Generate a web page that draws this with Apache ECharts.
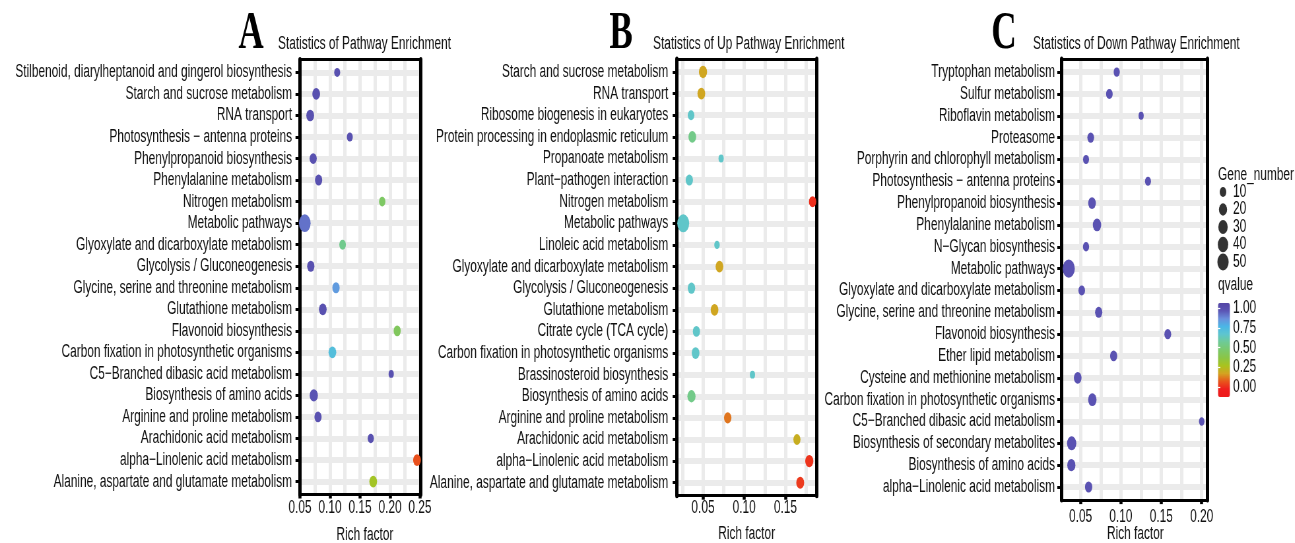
<!DOCTYPE html>
<html>
<head>
<meta charset="utf-8">
<script src="https://cdn.jsdelivr.net/npm/echarts@6/dist/echarts.min.js"></script>
<style>
  html, body { margin: 0; padding: 0; overflow: hidden; background: #fff; }
  /* the reference figure is squeezed horizontally, so draw wide and squeeze */
  #chart { width: 1962px; height: 543px; transform: scaleX(0.66); transform-origin: 0 0; }
</style>
</head>
<body>
<div id="chart"></div>
<script>
const SX = 0.66
const vx = (x) => x / SX

// ---- data ----
const catsA = [
  'Stilbenoid, diarylheptanoid and gingerol biosynthesis',
  'Starch and sucrose metabolism',
  'RNA transport',
  'Photosynthesis \u2212 antenna proteins',
  'Phenylpropanoid biosynthesis',
  'Phenylalanine metabolism',
  'Nitrogen metabolism',
  'Metabolic pathways',
  'Glyoxylate and dicarboxylate metabolism',
  'Glycolysis / Gluconeogenesis',
  'Glycine, serine and threonine metabolism',
  'Glutathione metabolism',
  'Flavonoid biosynthesis',
  'Carbon fixation in photosynthetic organisms',
  'C5\u2212Branched dibasic acid metabolism',
  'Biosynthesis of amino acids',
  'Arginine and proline metabolism',
  'Arachidonic acid metabolism',
  'alpha\u2212Linolenic acid metabolism',
  'Alanine, aspartate and glutamate metabolism',
]
const richA = [0.112, 0.077, 0.067, 0.133, 0.072, 0.081, 0.187, 0.058, 0.121, 0.068,
  0.110, 0.088, 0.212, 0.104, 0.202, 0.073, 0.080, 0.168, 0.245, 0.172]
const qA = [1, 1, 1, 1, 1, 1, 0.45, 0.92, 0.55, 1, 0.84, 1, 0.43, 0.72, 1, 0.98, 1, 1, 0.06, 0.29]
const geneA = [7, 17, 17, 7, 13, 14, 9, 55, 10, 14, 14, 17, 13, 17, 4, 20, 13, 8, 17, 17]

const catsB = [
  'Starch and sucrose metabolism',
  'RNA transport',
  'Ribosome biogenesis in eukaryotes',
  'Protein processing in endoplasmic reticulum',
  'Propanoate metabolism',
  'Plant\u2212pathogen interaction',
  'Nitrogen metabolism',
  'Metabolic pathways',
  'Linoleic acid metabolism',
  'Glyoxylate and dicarboxylate metabolism',
  'Glycolysis / Gluconeogenesis',
  'Glutathione metabolism',
  'Citrate cycle (TCA cycle)',
  'Carbon fixation in photosynthetic organisms',
  'Brassinosteroid biosynthesis',
  'Biosynthesis of amino acids',
  'Arginine and proline metabolism',
  'Arachidonic acid metabolism',
  'alpha\u2212Linolenic acid metabolism',
  'Alanine, aspartate and glutamate metabolism',
]
const richB = [0.050, 0.048, 0.0355, 0.037, 0.072, 0.0334, 0.183, 0.026, 0.067, 0.070,
  0.036, 0.064, 0.042, 0.041, 0.110, 0.036, 0.080, 0.164, 0.179, 0.168]
const qB = [0.18, 0.18, 0.66, 0.54, 0.66, 0.66, 0.0, 0.66, 0.66, 0.18,
  0.66, 0.18, 0.66, 0.66, 0.66, 0.54, 0.11, 0.2, 0.01, 0.02]
const geneB = [20, 17, 10, 17, 4, 14, 14, 58, 5, 17, 15, 17, 13, 17, 4, 20, 15, 13, 20, 18]

const catsC = [
  'Tryptophan metabolism',
  'Sulfur metabolism',
  'Riboflavin metabolism',
  'Proteasome',
  'Porphyrin and chlorophyll metabolism',
  'Photosynthesis \u2212 antenna proteins',
  'Phenylpropanoid biosynthesis',
  'Phenylalanine metabolism',
  'N\u2212Glycan biosynthesis',
  'Metabolic pathways',
  'Glyoxylate and dicarboxylate metabolism',
  'Glycine, serine and threonine metabolism',
  'Flavonoid biosynthesis',
  'Ether lipid metabolism',
  'Cysteine and methionine metabolism',
  'Carbon fixation in photosynthetic organisms',
  'C5\u2212Branched dibasic acid metabolism',
  'Biosynthesis of secondary metabolites',
  'Biosynthesis of amino acids',
  'alpha\u2212Linolenic acid metabolism',
]
const richC = [0.0948, 0.0857, 0.125, 0.0626, 0.0568, 0.1335, 0.0642, 0.0704, 0.0568, 0.0354,
  0.0515, 0.0725, 0.158, 0.091, 0.0465, 0.0646, 0.200, 0.039, 0.0386, 0.060]
const qC = [0.99, 0.99, 0.99, 0.99, 0.99, 0.99, 0.99, 0.99, 0.99, 0.99,
  0.99, 0.99, 0.99, 0.99, 0.99, 0.99, 0.99, 0.99, 0.99, 0.99]
const geneC = [8, 10, 4, 11, 7, 7, 17, 22, 8, 61, 10, 14, 11, 13, 17, 22, 5, 29, 20, 14]

const xTicksA = [0.05, 0.10, 0.15, 0.20, 0.25]
const xTicksB = [0.05, 0.10, 0.15]
const xTicksC = [0.05, 0.10, 0.15, 0.20]
const xGridA = [0.05, 0.075, 0.10, 0.125, 0.15, 0.175, 0.20, 0.225, 0.25]
const xGridB = [0.025, 0.05, 0.075, 0.10, 0.125, 0.15, 0.175]
const xGridC = [0.05, 0.075, 0.10, 0.125, 0.15, 0.175, 0.20]

const panelLetters = ['A', 'B', 'C']
const panelTitles = [
  'Statistics of Pathway Enrichment',
  'Statistics of Up Pathway Enrichment',
  'Statistics of Down Pathway Enrichment',
]
const geneBreaks = [10, 20, 30, 40, 50]
const qBreaks = [0, 0.25, 0.5, 0.75, 1]

// ---- styling / layout (final px, before the squeeze) ----
const FONT = '"Liberation Sans", Arial, sans-serif'
const TEXT = '#111'
const GRID_GREY = '#EBEBEB'
const qColors = ['#EE1B1B', '#F01E1E', '#E8561C', '#D4A321', '#A9C41E', '#8BC546', '#7BC96C',
  '#6FCA95', '#5EC6CF', '#4AB6E6', '#6A8FDC', '#5B55B5', '#5546A5']
const Q_MIN = -0.13
const Q_MAX = 1.07

const panels = [
  { cats: catsA, rich: richA, q: qA, gene: geneA, ticks: xTicksA, grid: xGridA,
    left: 299.5, right: 420.3, top: 59.5, bottom: 494.5, xMin: 0.0492, xMax: 0.2505,
    yGap: 7.5, xGap: 5.5, nameGap: 31.5, nameShift: 10, letterX: 251, titleX: 278 },
  { cats: catsB, rich: richB, q: qB, gene: geneB, ticks: xTicksB, grid: xGridB,
    left: 676.7, right: 816.7, top: 59, bottom: 495.7, xMin: 0.0181, xMax: 0.188,
    yGap: 8.4, xGap: 4.3, nameGap: 29.3, nameShift: 0, letterX: 621, titleX: 653 },
  { cats: catsC, rich: richC, q: qC, gene: geneC, ticks: xTicksC, grid: xGridC,
    left: 1061.3, right: 1207.5, top: 59, bottom: 500.1, xMin: 0.0262, xMax: 0.2072,
    yGap: 6.3, xGap: 8.5, nameGap: 25, nameShift: 2, letterX: 1004, titleX: 1033 },
]

const dotSize = (g) => 4.3 + 1.8 * Math.sqrt(g)
const labelStyle = { fontSize: 18, color: TEXT, fontFamily: FONT }

const grids = []
const xAxes = []
const yAxes = []
const series = []

panels.forEach((p, i) => {
  const n = p.cats.length
  const idx = p.cats.map((_, j) => j)
  grids.push({
    left: vx(p.left), top: p.top, width: vx(p.right - p.left), height: p.bottom - p.top,
    outerBoundsMode: 'none', containLabel: false,
  })
  // bottom axis: ticks, labels, frame
  xAxes.push({
    gridIndex: i, type: 'value', position: 'bottom', min: p.xMin, max: p.xMax,
    axisLine: { show: true, onZero: false, lineStyle: { color: '#000', width: 3 } },
    axisTick: { show: true, length: 4, lineStyle: { color: '#000', width: vx(3) }, customValues: p.ticks },
    axisLabel: { ...labelStyle, lineHeight: 16, customValues: p.ticks, margin: p.xGap,
      formatter: (v) => v.toFixed(2) },
    splitLine: { show: false },
    name: 'Rich factor', nameLocation: 'middle', nameGap: p.nameGap, nameMoveOverlap: false,
    nameTextStyle: { ...labelStyle, padding: [0, 0, 0, vx(p.nameShift)] },
  })
  // top axis: frame + vertical grid lines (major and minor)
  xAxes.push({
    gridIndex: i, type: 'value', position: 'top', min: p.xMin, max: p.xMax,
    axisLine: { show: true, onZero: false, lineStyle: { color: '#000', width: 3 } },
    axisTick: { show: false, customValues: p.grid },
    axisLabel: { show: false },
    splitLine: { show: true, lineStyle: { color: GRID_GREY, width: vx(3.3) } },
  })
  yAxes.push({
    gridIndex: i, type: 'value', position: 'left', inverse: true, min: -0.6, max: n - 0.4,
    axisLine: { show: true, onZero: false, lineStyle: { color: '#000', width: vx(3.3) } },
    axisTick: { show: true, length: vx(4), lineStyle: { color: '#000', width: 3 }, customValues: idx },
    axisLabel: { ...labelStyle, lineHeight: 18, customValues: idx, margin: vx(p.yGap),
      formatter: (v) => p.cats[Math.round(v)] },
    splitLine: { show: true, lineStyle: { color: GRID_GREY, width: 6 } },
  })
  yAxes.push({
    gridIndex: i, type: 'value', position: 'right', inverse: true, min: -0.6, max: n - 0.4,
    axisLine: { show: true, onZero: false, lineStyle: { color: '#000', width: vx(3.3) } },
    axisTick: { show: false }, axisLabel: { show: false }, splitLine: { show: false },
  })
  series.push({
    type: 'scatter', xAxisIndex: 2 * i, yAxisIndex: 2 * i, clip: false, silent: true,
    data: p.cats.map((_, j) => [p.rich[j], j, p.q[j], p.gene[j]]),
    symbolSize: (v) => dotSize(v[3]),
    itemStyle: { opacity: 1 },
  })
})

// size legend (grid 3)
grids.push({ left: vx(1223) - 1, top: 183.25, width: 2, height: 87.5, outerBoundsMode: 'none' })
xAxes.push({ gridIndex: 3, type: 'value', min: -1, max: 1, show: false })
yAxes.push({
  gridIndex: 3, type: 'category', position: 'right', inverse: true,
  data: geneBreaks.map(String),
  axisLine: { show: false }, axisTick: { show: false }, splitLine: { show: false },
  axisLabel: { ...labelStyle, lineHeight: 14, interval: 0, margin: vx(10) - 1 },
})
series.push({
  type: 'scatter', xAxisIndex: 6, yAxisIndex: 6, silent: true, clip: false,
  data: geneBreaks.map((g, j) => [0, j, g]),
  symbolSize: (v) => dotSize(v[2]),
  itemStyle: { color: '#000' },
})

// colour bar labels (grid 4), the bar itself is the visualMap
grids.push({ left: vx(1218), top: 303, width: vx(12), height: 94, outerBoundsMode: 'none' })
xAxes.push({ gridIndex: 4, type: 'value', min: 0, max: 1, show: false })
yAxes.push({
  gridIndex: 4, type: 'value', position: 'right', min: Q_MIN, max: Q_MAX, z: 10,
  axisLine: { show: false }, splitLine: { show: false },
  axisTick: { show: true, inside: true, length: 3.5, lineStyle: { color: '#fff', width: 1.2 }, customValues: qBreaks },
  axisLabel: { ...labelStyle, lineHeight: 16, hideOverlap: false, customValues: qBreaks, margin: vx(3),
    formatter: (v) => v.toFixed(2) },
})
yAxes.push({
  gridIndex: 4, type: 'value', position: 'left', min: Q_MIN, max: Q_MAX, z: 10,
  axisLine: { show: false }, splitLine: { show: false }, axisLabel: { show: false },
  axisTick: { show: true, inside: true, length: 3.5, lineStyle: { color: '#fff', width: 1.2 }, customValues: qBreaks },
})

const graphic = []
panels.forEach((p, i) => {
  graphic.push({
    type: 'text', x: vx(p.letterX), y: 34, silent: true,
    style: { text: panelLetters[i], font: 'bold 53px "Liberation Serif", "DejaVu Serif", serif',
      fill: '#000', align: 'center', verticalAlign: 'middle' },
  })
  graphic.push({
    type: 'text', x: vx(p.titleX), y: 44, silent: true,
    style: { text: panelTitles[i], font: '18px ' + FONT, fill: TEXT, align: 'left', verticalAlign: 'middle' },
  })
})
graphic.push({
  type: 'text', x: vx(1218), y: 175, silent: true,
  style: { text: 'Gene_number', font: '18px ' + FONT, fill: TEXT, align: 'left', verticalAlign: 'middle' },
})
graphic.push({
  type: 'text', x: vx(1218), y: 285, silent: true,
  style: { text: 'qvalue', font: '18px ' + FONT, fill: TEXT, align: 'left', verticalAlign: 'middle' },
})

const chart = echarts.init(document.getElementById('chart'), null, { renderer: 'canvas' })
chart.setOption({
  animation: false,
  backgroundColor: '#fff',
  textStyle: { fontFamily: FONT },
  grid: grids,
  xAxis: xAxes,
  yAxis: yAxes,
  visualMap: {
    type: 'continuous', seriesIndex: [0, 1, 2], dimension: 2,
    min: Q_MIN, max: Q_MAX, inRange: { color: qColors },
    calculable: false, hoverLink: false, padding: 0,
    left: vx(1218), top: 303, itemWidth: vx(12), itemHeight: 94,
  },
  graphic,
  series,
})
</script>
</body>
</html>
